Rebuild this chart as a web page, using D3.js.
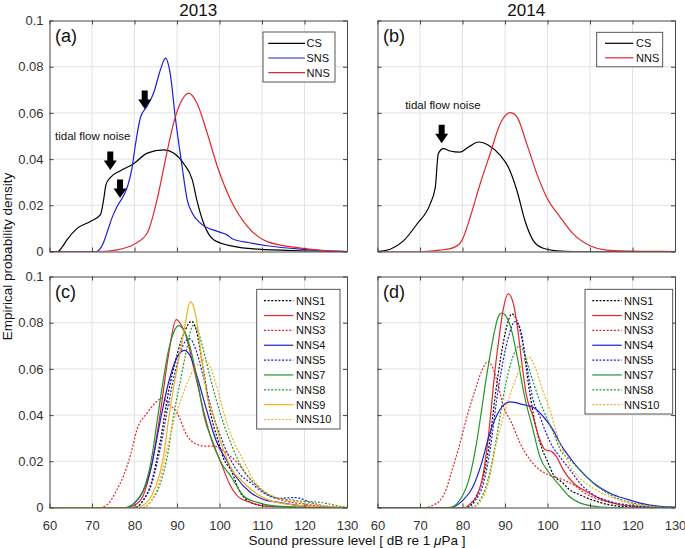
<!DOCTYPE html>
<html><head><meta charset="utf-8">
<script src="https://cdn.jsdelivr.net/npm/d3@7"></script>
<style>
body{margin:0;background:#fff}
svg{display:block}
text{font-family:Arial,"Liberation Sans",sans-serif}
</style>
</head><body>
<svg id="chart" width="685" height="548"></svg>
<script>
// ---------- data ----------
const xTicks = [60,70,80,90,100,110,120,130];
const xTickLabels = ["60","70","80","90","100","110","120","130"];
const yTicks = [0,0.02,0.04,0.06,0.08,0.1];
const yTickLabels = ["0","0.02","0.04","0.06","0.08","0.1"];
const years = ["2013","2014"];
const panelLabels = ["(a)","(b)","(c)","(d)"];

// panel (a) 2013 regions
const CS2013 = [[60,0],[62,0],[63,0.002],[64.1,0.005],[66.5,0.01],[69.6,0.013],[72,0.016],[72.7,0.022],[73.3,0.029],[74.3,0.032],[76.7,0.035],[79.8,0.038],[83,0.0426],[86.9,0.044],[89.2,0.0426],[91.6,0.038],[93.6,0.031],[94.7,0.022],[96.3,0.012],[98.7,0.005],[103.4,0.0022],[109,0.001],[119,0.0003],[130,0]];
const SNS2013 = [[60,0],[71,0],[72.5,0.003],[73.5,0.008],[74.8,0.015],[75.9,0.0195],[77.4,0.024],[78.5,0.029],[79.4,0.036],[80.2,0.046],[81.4,0.058],[83,0.063],[84.5,0.0686],[86.1,0.0787],[87.3,0.0837],[88.4,0.077],[89.6,0.058],[91.2,0.0368],[92.4,0.0224],[93.6,0.0166],[95.5,0.0123],[99.5,0.0087],[101.8,0.0072],[103,0.0055],[107,0.0038],[111.2,0.0025],[119.1,0.001],[125,0.0003],[130,0]];
const NNS2013 = [[60,0],[72,0],[75.9,0.0007],[79.8,0.003],[83,0.008],[85.3,0.0224],[87.6,0.0426],[89.2,0.0556],[91.2,0.0657],[92.8,0.0686],[94.7,0.0642],[97.1,0.0513],[99.5,0.0368],[102.6,0.0224],[106.6,0.0108],[111.2,0.0043],[119.1,0.0015],[126,0.0003],[130,0]];

// panel (b) 2014 regions
const CS2014 = [[60,0],[61.5,0.0003],[63,0.001],[66.1,0.0046],[69.3,0.0119],[72.4,0.0206],[73.6,0.0278],[74.3,0.0423],[75.5,0.0445],[77.1,0.0435],[79.4,0.043],[81.4,0.0452],[83.8,0.0474],[86.1,0.046],[88.9,0.0416],[90.8,0.0365],[92.8,0.0264],[94.7,0.0133],[96.7,0.0046],[99,0.0014],[102.2,0.0003],[106,0],[130,0]];
const NNS2014 = [[60,0],[70.8,0],[74.7,0.0006],[77.9,0.0017],[79.8,0.0046],[81.8,0.0148],[84.1,0.029],[86.5,0.0423],[88.9,0.0554],[91.2,0.0601],[92.8,0.0583],[95.1,0.0467],[97.5,0.0336],[99.8,0.0235],[103,0.0148],[106.1,0.0075],[110,0.0025],[113.9,0.0006],[121.8,0.0001],[130,0]];

// panel (c) 2013 stations
const c_NNS1 = [[60,0],[80,0],[82,0.003],[84,0.011],[86,0.028],[88,0.05],[90,0.066],[92,0.077],[93.4,0.0806],[94.5,0.077],[96,0.062],[98,0.04],[100,0.027],[101,0.021],[102.6,0.0165],[104.9,0.0065],[107.3,0.0022],[110,0.0008],[115,0.0002],[120,0],[130,0]];
const c_NNS2 = [[60,0],[78,0],[80,0.001],[82,0.005],[84,0.018],[86,0.04],[88,0.066],[89.8,0.0813],[91,0.079],[92,0.075],[94,0.06],[96.5,0.04],[98,0.03],[100.2,0.02],[102.6,0.0093],[104.5,0.0045],[107.3,0.0022],[110.2,0.0007],[115,0.0002],[120,0],[130,0]];
const c_NNS3 = [[60,0],[71.9,0],[74,0.002],[75.9,0.0079],[77.4,0.0136],[79,0.0223],[80.6,0.0338],[83,0.041],[85.3,0.046],[86.5,0.0475],[88,0.045],[90,0.041],[92.4,0.031],[94.7,0.0273],[96.5,0.0266],[98.6,0.0266],[101,0.0244],[104.2,0.0194],[107.3,0.0122],[110,0.0075],[114,0.0036],[120,0.0015],[123,0.0007],[127,0],[130,0]];
const c_NNS4 = [[60,0],[78,0],[80,0.002],[82,0.007],[84,0.018],[86,0.037],[88,0.054],[90,0.065],[91.7,0.068],[93,0.066],[95,0.055],[97,0.042],[99,0.03],[101.8,0.02],[104,0.013],[107.3,0.0065],[110.2,0.0036],[114,0.0022],[118,0.001],[123,0.0003],[130,0]];
const c_NNS5 = [[60,0],[80,0],[82,0.003],[84,0.01],[86,0.025],[88,0.045],[90,0.062],[92,0.072],[93,0.073],[94.5,0.068],[96,0.058],[98.5,0.04],[100,0.032],[102.5,0.021],[105,0.014],[107.3,0.0108],[110.2,0.0065],[114,0.004],[118,0.0043],[121.4,0.0022],[124.6,0.0007],[128,0],[130,0]];
const c_NNS7 = [[60,0],[78,0],[80,0.002],[82,0.007],[84,0.021],[85.3,0.037],[86.5,0.052],[88,0.068],[89.5,0.077],[90.4,0.0787],[91.5,0.077],[93,0.07],[95,0.053],[96.3,0.04],[98.5,0.028],[100.2,0.02],[102.6,0.0137],[105.7,0.005],[108.9,0.0022],[112.8,0.0007],[118,0.0002],[125,0],[130,0]];
const c_NNS8 = [[60,0],[82,0],[84,0.003],[86,0.01],[88,0.025],[89.2,0.04],[90.5,0.052],[92,0.066],[93.8,0.0787],[95,0.076],[96.5,0.066],[98,0.055],[100.3,0.04],[102,0.031],[104.5,0.02],[106,0.015],[108,0.0108],[112,0.005],[118,0.003],[124.6,0.002],[127.8,0.0007],[130,0]];
const c_NNS9 = [[60,0],[80,0],[82,0.001],[84,0.005],[86,0.015],[87,0.024],[88,0.038],[89,0.05],[90,0.06],[91,0.07],[92,0.08],[92.7,0.087],[93.2,0.089],[93.9,0.087],[94.7,0.08],[95.9,0.063],[97.1,0.048],[98.5,0.04],[100,0.03],[101.8,0.021],[103,0.016],[105,0.012],[107.3,0.008],[110,0.0045],[112,0.003],[118,0.001],[122,0.0004],[130,0]];
const c_NNS10 = [[60,0],[82,0],[84,0.003],[86,0.012],[87.5,0.024],[89.2,0.037],[91,0.047],[92.4,0.054],[94,0.06],[95.5,0.063],[96.5,0.064],[98,0.06],[100,0.048],[101,0.041],[103,0.03],[105.7,0.02],[108,0.012],[110.2,0.0075],[114,0.004],[120,0.002],[125,0.0007],[130,0]];

// panel (d) 2014 stations
const d_NNS1 = [[60,0],[81,0],[83,0.004],[85,0.014],[86.5,0.03],[87.6,0.047],[89,0.065],[90.5,0.079],[91.6,0.0838],[92.8,0.081],[94,0.073],[95.8,0.05],[97.4,0.0336],[99,0.024],[100,0.02],[101.3,0.0145],[103.7,0.0105],[105,0.008],[107.6,0.0055],[111.6,0.0026],[115,0.001],[120,0.0002],[124,0],[130,0]];
const d_NNS2 = [[60,0],[80.5,0],[82,0.002],[83.3,0.0048],[84.9,0.0149],[86,0.0293],[86.8,0.0437],[87.5,0.057],[88.5,0.072],[89.5,0.085],[90.8,0.0925],[92,0.088],[93,0.077],[94,0.062],[95,0.049],[96.6,0.0394],[98.2,0.0293],[99.4,0.025],[101,0.0242],[102.1,0.022],[103.7,0.0163],[106.1,0.0106],[109.2,0.0068],[113.1,0.0033],[117,0.0012],[122,0.0003],[126,0],[130,0]];
const d_NNS3 = [[60,0],[71.5,0],[73,0.001],[74.7,0.003],[76.2,0.008],[77.5,0.016],[79,0.025],[81,0.039],[83,0.051],[84.5,0.059],[86,0.0632],[87,0.061],[88.5,0.052],[89.6,0.044],[91.6,0.0365],[93.5,0.028],[95.9,0.0206],[98.2,0.0163],[101.3,0.0134],[103.7,0.012],[106.1,0.0098],[109,0.006],[112.3,0.0033],[118.6,0.0012],[124,0.0003],[128,0],[130,0]];
const d_NNS4 = [[60,0],[77,0],[80.2,0.0033],[82.5,0.0091],[84.5,0.0192],[86.4,0.032],[88.8,0.0423],[91.2,0.0457],[94.3,0.0445],[97,0.043],[99,0.0394],[101.3,0.0336],[103.2,0.027],[105.5,0.021],[107.6,0.0163],[110.8,0.0106],[114.7,0.0062],[118.6,0.0036],[121.8,0.0019],[126.5,0.0005],[130,0.0002]];
const d_NNS5 = [[60,0],[81,0],[83,0.003],[85,0.011],[86.5,0.025],[88,0.046],[89.5,0.063],[91,0.075],[92.3,0.0805],[93.5,0.078],[95,0.063],[96.6,0.0466],[98.2,0.0394],[99.5,0.033],[101.3,0.026],[102.9,0.022],[105.3,0.0163],[107.6,0.0106],[110.8,0.0055],[114.7,0.0026],[118,0.0012],[122,0.0004],[126,0],[130,0]];
const d_NNS7 = [[60,0],[77,0],[79.4,0.0033],[81.7,0.0134],[83.3,0.0279],[84.5,0.0423],[85.5,0.055],[86.5,0.066],[87.5,0.076],[88.3,0.082],[89.2,0.0842],[90.2,0.083],[91.5,0.077],[93,0.064],[94.5,0.049],[96.6,0.0336],[98.2,0.022],[100.6,0.0145],[102.9,0.0095],[105,0.005],[107.6,0.002],[110,0.0008],[115,0],[130,0]];
const d_NNS8 = [[60,0],[82,0],[84,0.003],[86,0.012],[88,0.03],[89.5,0.047],[91,0.06],[92.5,0.068],[93.5,0.07],[94.5,0.067],[96,0.058],[98,0.047],[100,0.038],[101.5,0.032],[103,0.025],[105.3,0.0206],[107.6,0.0163],[110.8,0.0106],[114.7,0.0055],[118.6,0.0026],[122.5,0.0012],[127,0.0002],[130,0]];
const d_NNS10 = [[60,0],[82,0],[84,0.002],[86,0.01],[88,0.028],[90,0.042],[92,0.053],[94,0.062],[95.7,0.065],[97,0.061],[99,0.05],[100.6,0.042],[102,0.033],[104,0.023],[106,0.016],[109,0.0106],[112,0.007],[115,0.0045],[119,0.002],[123,0.0008],[128,0],[130,0]];

// annotations (data coords of arrow tips / text start)
const arrowsA = [[74.3,0.0353],[76.6,0.0232],[82.4,0.0617]];
const arrowsB = [[75.1,0.0469]];
const noteText = "tidal flow noise";
const noteA = [61.3,0.0483];
const noteB = [66.5,0.0619];

// ---------- styles ----------
const RED="#e3262b", BLUE="#1f1fd6", GREEN="#22962e", GOLD="#f0b020", BLACK="#000";
const DOT="2,1.6";

const W=297.5, H=231;
const panels = [
  {left:49.5, top:20.5, label:panelLabels[0], title:years[0], yLabels:true, xLabels:false,
   series:[{n:"CS",d:CS2013,c:BLACK},{n:"SNS",d:SNS2013,c:BLUE},{n:"NNS",d:NNS2013,c:RED}],
   leg:{x:213.5,y:11.5,w:72,h:50,l1:218.8,l2:255.5,tx:257,r0:22.8,rs:14.7},
   arrows:arrowsA, note:noteA},
  {left:377.5, top:20.5, label:panelLabels[1], title:years[1], yLabels:false, xLabels:false,
   series:[{n:"CS",d:CS2014,c:BLACK},{n:"NNS",d:NNS2014,c:RED}],
   leg:{x:219.2,y:11.8,w:66,h:34.5,l1:227.5,l2:255.8,tx:258.5,r0:22.8,rs:14.5},
   arrows:arrowsB, note:noteB},
  {left:49.5, top:276.5, label:panelLabels[2], yLabels:true, xLabels:true,
   series:[{n:"NNS1",d:c_NNS1,c:BLACK,dash:1},{n:"NNS2",d:c_NNS2,c:RED},{n:"NNS3",d:c_NNS3,c:RED,dash:1},
     {n:"NNS4",d:c_NNS4,c:BLUE},{n:"NNS5",d:c_NNS5,c:BLUE,dash:1},{n:"NNS7",d:c_NNS7,c:GREEN},
     {n:"NNS8",d:c_NNS8,c:GREEN,dash:1},{n:"NNS9",d:c_NNS9,c:GOLD},{n:"NNS10",d:c_NNS10,c:GOLD,dash:1}],
   leg:{x:207.2,y:12.8,w:83.3,h:139.7,l1:214.5,l2:243.8,tx:246.5,r0:24.2,rs:14.85}},
  {left:377.5, top:276.5, label:panelLabels[3], yLabels:false, xLabels:true,
   series:[{n:"NNS1",d:d_NNS1,c:BLACK,dash:1},{n:"NNS2",d:d_NNS2,c:RED},{n:"NNS3",d:d_NNS3,c:RED,dash:1},
     {n:"NNS4",d:d_NNS4,c:BLUE},{n:"NNS5",d:d_NNS5,c:BLUE,dash:1},{n:"NNS7",d:d_NNS7,c:GREEN},
     {n:"NNS8",d:d_NNS8,c:GREEN,dash:1},{n:"NNS10",d:d_NNS10,c:GOLD,dash:1}],
   leg:{x:207.5,y:12.8,w:87.7,h:124.7,l1:214.8,l2:244.2,tx:246.5,r0:24.2,rs:14.85}}
];

const svg = d3.select("#chart");
const x = d3.scaleLinear().domain([60,130]).range([0,W]);
const y = d3.scaleLinear().domain([0,0.1]).range([H,0]);
const line = d3.line().x(d=>x(d[0])).y(d=>y(d[1])).curve(d3.curveMonotoneX);
const AX="#444";

svg.append("defs").append("clipPath").attr("id","clip")
  .append("rect").attr("x",0).attr("y",-1).attr("width",W).attr("height",H+1);

panels.forEach((p,i)=>{
  const g = svg.append("g").attr("transform",`translate(${p.left},${p.top})`);
  // grid
  g.append("g").selectAll("line").data(xTicks.slice(1,-1)).join("line")
    .attr("x1",d=>x(d)).attr("x2",d=>x(d)).attr("y1",0).attr("y2",H)
    .attr("stroke","#e3e3e3").attr("stroke-width",1);
  g.append("g").selectAll("line").data(yTicks.slice(1,-1)).join("line")
    .attr("y1",d=>y(d)).attr("y2",d=>y(d)).attr("x1",0).attr("x2",W)
    .attr("stroke","#e3e3e3").attr("stroke-width",1);
  // curves
  const cg = g.append("g").attr("clip-path","url(#clip)");
  p.series.forEach(s=>{
    cg.append("path").attr("d",line(s.d)).attr("fill","none")
      .attr("stroke",s.c).attr("stroke-width",1.2)
      .attr("stroke-dasharray",s.dash?DOT:null);
  });
  // axes (ticks inside on all four sides)
  const fmtY = d=>yTickLabels[yTicks.indexOf(d)];
  const fmtX = d=>xTickLabels[xTicks.indexOf(d)];
  const styleAxis = sel=>{
    sel.select(".domain").attr("stroke",AX);
    sel.selectAll(".tick line").attr("stroke",AX);
    sel.selectAll(".tick text").attr("fill","#333").style("font-size","13px")
      .style("font-family","Arial, 'Liberation Sans', sans-serif");
  };
  g.append("g").attr("transform",`translate(0,${H})`)
    .call(d3.axisBottom(x).tickValues(xTicks).tickSizeInner(-4).tickSizeOuter(0).tickPadding(13)
      .tickFormat(p.xLabels?fmtX:()=>""))
    .call(styleAxis);
  g.append("g")
    .call(d3.axisTop(x).tickValues(xTicks).tickSizeInner(-4).tickSizeOuter(0).tickFormat(()=>""))
    .call(styleAxis);
  g.append("g")
    .call(d3.axisLeft(y).tickValues(yTicks).tickSizeInner(-4).tickSizeOuter(0).tickPadding(6)
      .tickFormat(p.yLabels?fmtY:()=>""))
    .call(styleAxis);
  g.append("g").attr("transform",`translate(${W},0)`)
    .call(d3.axisRight(y).tickValues(yTicks).tickSizeInner(-4).tickSizeOuter(0).tickFormat(()=>""))
    .call(styleAxis);
  g.selectAll(".domain").attr("stroke-width",1);

  // panel label
  g.append("text").attr("x",5.5).attr("y",21.5).text(p.label)
    .attr("font-size","18px").attr("fill","#111");
  // title
  if(p.title) g.append("text").attr("x",W/2).attr("y",-5).attr("text-anchor","middle")
    .text(p.title).attr("font-size","17px").attr("fill","#111");

  // legend
  const L=p.leg;
  const lg=g.append("g");
  lg.append("rect").attr("x",L.x).attr("y",L.y).attr("width",L.w).attr("height",L.h)
    .attr("fill","#fff").attr("stroke","#444").attr("stroke-width",0.9);
  p.series.forEach((s,k)=>{
    const yy=L.r0+k*L.rs;
    lg.append("line").attr("x1",L.l1).attr("x2",L.l2).attr("y1",yy).attr("y2",yy)
      .attr("stroke",s.c).attr("stroke-width",1.2).attr("stroke-dasharray",s.dash?DOT:null);
    lg.append("text").attr("x",L.tx).attr("y",yy).attr("dy","0.36em").text(s.n)
      .attr("font-size","11px").attr("fill","#111");
  });

  // annotations
  if(p.note){
    g.append("text").attr("x",x(p.note[0])).attr("y",y(p.note[1])).text(noteText)
      .attr("font-size","11.5px").attr("fill","#111");
  }
  if(p.arrows){
    p.arrows.forEach(a=>{
      const tx=x(a[0]), ty=y(a[1]);
      const path=`M${tx},${ty} L${tx-6.5},${ty-9.5} L${tx-3},${ty-9.5} L${tx-3},${ty-18.5} L${tx+3},${ty-18.5} L${tx+3},${ty-9.5} L${tx+6.5},${ty-9.5} Z`;
      g.append("path").attr("d",path).attr("fill","#000");
    });
  }
});

// axis titles
svg.append("text").attr("x",357).attr("y",544.5).attr("text-anchor","middle")
  .attr("font-size","13.5px").attr("fill","#111")
  .call(t=>{
    t.append("tspan").text("Sound pressure level [ dB re 1 ");
    t.append("tspan").attr("font-style","italic").text("\u03bc");
    t.append("tspan").text("Pa ]");
  });
svg.append("text").attr("transform","translate(12,256.5) rotate(-90)")
  .attr("text-anchor","middle").attr("font-size","13.5px").attr("fill","#111")
  .text("Empirical probability density");
</script>
</body></html>
